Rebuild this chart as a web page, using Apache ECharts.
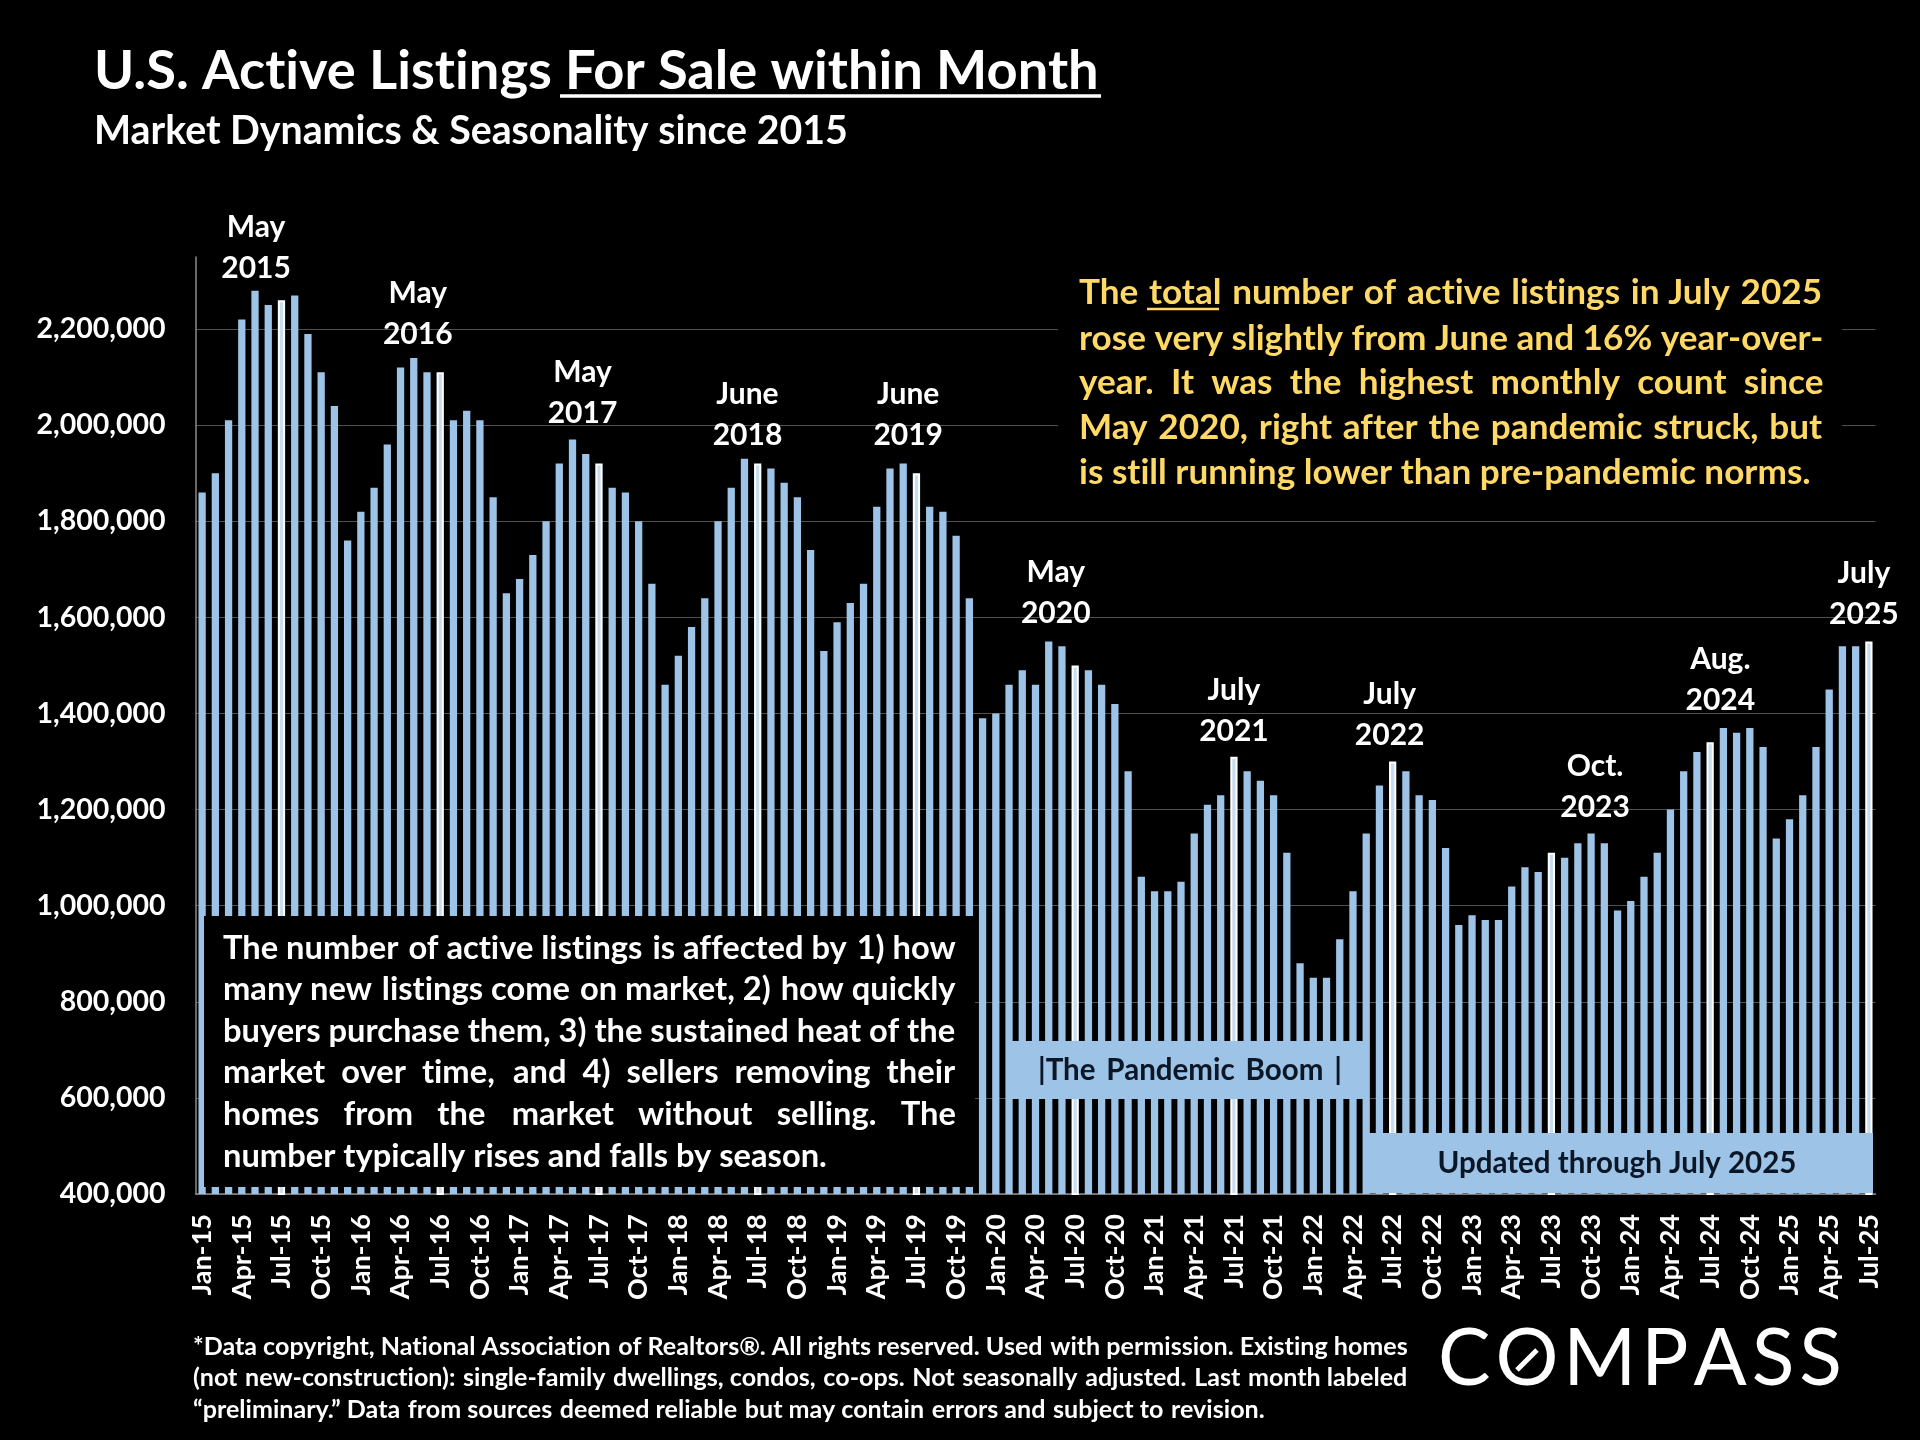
<!DOCTYPE html>
<html><head><meta charset="utf-8">
<style>html,body{margin:0;padding:0;background:#000}#c{width:1920px;height:1440px}</style>
<script src="https://cdn.jsdelivr.net/npm/echarts@6/dist/echarts.min.js"></script>
</head><body><div id="c"></div>
<script>
const YEARS = [15,16,17,18,19,20,21,22,23,24,25];
const MONTHS = ['Jan','Feb','Mar','Apr','May','Jun','Jul','Aug','Sep','Oct','Nov','Dec'];
const categories = [];
YEARS.forEach(y => MONTHS.forEach((m,i) => { if (y < 25 || i < 7) categories.push(m + '-' + y); }));

const listings2015 = [1860000,1900000,2010000,2220000,2280000,2250000,2260000,2270000,2190000,2110000,2040000,1760000];
const listings2016 = [1820000,1870000,1960000,2120000,2140000,2110000,2110000,2010000,2030000,2010000,1850000,1650000];
const listings2017 = [1680000,1730000,1800000,1920000,1970000,1940000,1920000,1870000,1860000,1800000,1670000,1460000];
const listings2018 = [1520000,1580000,1640000,1800000,1870000,1930000,1920000,1910000,1880000,1850000,1740000,1530000];
const listings2019 = [1590000,1630000,1670000,1830000,1910000,1920000,1900000,1830000,1820000,1770000,1640000,1390000];
const listings2020 = [1400000,1460000,1490000,1460000,1550000,1540000,1500000,1490000,1460000,1420000,1280000,1060000];
const listings2021 = [1030000,1030000,1050000,1150000,1210000,1230000,1310000,1280000,1260000,1230000,1110000,880000];
const listings2022 = [850000,850000,930000,1030000,1150000,1250000,1300000,1280000,1230000,1220000,1120000,960000];
const listings2023 = [980000,970000,970000,1040000,1080000,1070000,1110000,1100000,1130000,1150000,1130000,990000];
const listings2024 = [1010000,1060000,1110000,1200000,1280000,1320000,1340000,1370000,1360000,1370000,1330000,1140000];
const listings2025 = [1180000,1230000,1330000,1450000,1540000,1540000,1550000];
const values = [].concat(listings2015,listings2016,listings2017,listings2018,listings2019,listings2020,listings2021,listings2022,listings2023,listings2024,listings2025);

const peakLabels = {
  'May-15':['May\n2015',1,4], 'May-16':['May\n2016',4,3], 'May-17':['May\n2017',10,0],
  'Jun-18':['June\n2018',3,3], 'Jun-19':['June\n2019',5,-2], 'May-20':['May\n2020',7,-2],
  'Jul-21':['July\n2021',0,1], 'Jul-22':['July\n2022',-3,0], 'Oct-23':['Oct.\n2023',4,0],
  'Aug-24':['Aug.\n2024',-3,-1], 'Jul-25':['July\n2025',-5,-1]
};

const titleMain = 'U.S. Active Listings For Sale within Month';
const titleSub = 'Market Dynamics & Seasonality since 2015';
const yellowLines = [
 'The total number of active listings in July 2025',
 'rose very slightly from June and 16% year-over-',
 'year. It was the highest monthly count since',
 'May 2020, right after the pandemic struck, but',
 'is still running lower than pre-pandemic norms.'];
const whiteLines = [
 'The number of active listings is affected by 1) how',
 'many new listings come on market, 2) how quickly',
 'buyers purchase them, 3) the sustained heat of the',
 'market over time, and 4) sellers removing their',
 'homes from the market without selling. The',
 'number typically rises and falls by season.'];
const footLines = [
 '*Data copyright, National Association of Realtors®. All rights reserved. Used with permission. Existing homes',
 '(not new-construction): single-family dwellings, condos, co-ops. Not seasonally adjusted. Last month labeled',
 '“preliminary.” Data from sources deemed reliable but may contain errors and subject to revision.'];

const FF = 'Lato, "Noto Sans", sans-serif';
const mctx = document.createElement('canvas').getContext('2d');
mctx.textRendering = 'optimizeSpeed';
function fnt(size, w){ return (w||'bold') + ' ' + size + 'px ' + FF; }
function measure(t, f){ mctx.font = f; return mctx.measureText(t).width; }
function fitSize(t, target, w){ return target / measure(t, fnt(100,w)) * 100; }
const HAIR = '\u200A';
function justify(line, f, target){
  const words = line.split(' ');
  const gaps = words.length - 1;
  const extra = target - measure(line, f);
  const hw = measure(HAIR, f);
  if (gaps < 1 || extra <= 0 || hw <= 0) return line;
  let out = words[0], used = 0;
  for (let i = 1; i < words.length; i++) {
    const want = Math.round(extra * i / gaps / hw);
    out += HAIR.repeat(want - used) + ' ' + words[i];
    used = want;
  }
  return out;
}
function txt(text, x, y, font, fill, align){
  return {type:'text', z:110, silent:true, style:{text, x, y, font, fill, align:align||'left', verticalAlign:'middle'}};
}
function rect(x, y, w, h, fill, z){
  return {type:'rect', z:z||100, silent:true, shape:{x,y,width:w,height:h}, style:{fill}};
}
function hline(x1, x2, y, w, color){
  return {type:'line', z:111, silent:true, shape:{x1,y1:y,x2,y2:y}, style:{stroke:color, lineWidth:w}};
}

const graphics = [];
// Title
const titleSize = fitSize(titleMain, 1005);
graphics.push(txt(titleMain, 94, 71.5, fnt(titleSize), '#fff'));
graphics.push(hline(560, 1101, 96, 3.5, '#fff'));
graphics.push(txt(titleSub, 94, 131.5, fnt(fitSize(titleSub, 754)), '#fff'));
// Yellow note
graphics.push(rect(1058, 262, 784, 235, '#000'));
const ySize = fitSize(yellowLines[4], 732);
yellowLines.forEach((l,i) => {
  const ys = [293,339,383,428,473];
  graphics.push(txt(i < 4 ? justify(l, fnt(ySize), 744) : l, 1079, ys[i], fnt(ySize), '#FFD966'));
});
graphics.push(hline(1147, 1219, 309, 2.5, '#FFD966'));
// White note
graphics.push(rect(204, 916, 771, 271, '#000'));
const wSize = fitSize(whiteLines[5], 604);
whiteLines.forEach((l,i) => {
  const ys = [948.5,989.5,1031.5,1072.5,1114.5,1156];
  graphics.push(txt(i < 5 ? justify(l, fnt(wSize), 733) : l, 223, ys[i], fnt(wSize), '#fff'));
});
// Blue labels
const bSize = fitSize('Updated through July 2025', 359);
graphics.push(rect(1007, 1041, 361, 58, '#9DC3E6'));
graphics.push(txt(justify('|The Pandemic Boom |', fnt(bSize), 305), 1190, 1070, fnt(bSize), '#0B1626', 'center'));
graphics.push(rect(1364, 1133, 509, 60, '#9DC3E6'));
graphics.push(txt('Updated through July 2025', 1617, 1163, fnt(bSize), '#0B1626', 'center'));
// Footer
const fSize = fitSize(footLines[0], 1212);
footLines.forEach((l,i) => {
  const ys = [1347,1378,1410];
  graphics.push(txt(justify(l, fnt(fSize), i < 2 ? 1215 : 1071), 193, ys[i], fnt(fSize), '#fff'));
});
// Logo
const logoLetters = ['C','O','M','P','A','S','S'];
const logoBase = fnt(76,'normal');
const logoPad = HAIR.repeat(Math.max(0, Math.floor((404 - measure(logoLetters.join(''), logoBase)) / 6 / measure(HAIR, logoBase))));
const logoText = logoLetters.join(logoPad);
const logoFont = fnt(fitSize(logoText, 404, 'normal'), 'normal');
graphics.push(txt(logoText, 1438, 1360, logoFont, '#fff'));
const oCx = 1438 + measure('C' + logoPad, logoFont) + measure('O', logoFont) / 2;
graphics.push({type:'line', z:111, silent:true, shape:{x1:oCx-10,y1:1370,x2:oCx+10,y2:1350}, style:{stroke:'#fff', lineWidth:5}});

const seriesData = values.map((v,i) => {
  const cat = categories[i];
  const item = {value:v};
  if (cat.startsWith('Jul')) item.itemStyle = {color:'#C9DDF0', borderColor:'#fff', borderWidth:2};
  if (peakLabels[cat]) item.label = {show:true, position:'top', distance:6, formatter:peakLabels[cat][0],
    offset:[peakLabels[cat][1],peakLabels[cat][2]], color:'#fff', fontFamily:FF, fontWeight:'bold', fontSize:30, lineHeight:41, align:'center'};
  return item;
});

const chart = echarts.init(document.getElementById('c'), null, {renderer:'canvas', width:1920, height:1440});
const option = {
  backgroundColor:'#000',
  animation:false,
  graphic:graphics,
  grid:{left:195.5, right:44.5, top:257, bottom:246, containLabel:false},
  xAxis:{type:'category', data:categories,
    axisLine:{lineStyle:{color:'#8a8a8a', width:1.5}}, axisTick:{show:false},
    axisLabel:{interval:2, rotate:90, margin:20, color:'#fff', fontFamily:FF, fontWeight:'bold', fontSize:27}},
  yAxis:{type:'value', min:400000, max:2350000, interval:200000,
    axisLine:{show:true, lineStyle:{color:'#8a8a8a', width:1.5}}, axisTick:{show:false},
    axisLabel:{margin:30, showMaxLabel:false, color:'#fff', fontFamily:FF, fontWeight:'bold', fontSize:28.5,
      formatter:v => v.toLocaleString('en-US')},
    splitLine:{show:true, showMaxLine:false, lineStyle:{color:'#505050', width:1.2}}},
  series:[{type:'bar', data:seriesData, barWidth:'55%', itemStyle:{color:'#9DC3E6'}, z:2}]
};
chart.setOption(option);
// Calibri-like look: switch off Lato's "ti"/"tt" ligatures on the chart's canvas, then repaint
document.querySelectorAll('#c canvas').forEach(cv => { cv.getContext('2d').textRendering = 'optimizeSpeed'; });
chart.setOption(option, true);
</script></body></html>
